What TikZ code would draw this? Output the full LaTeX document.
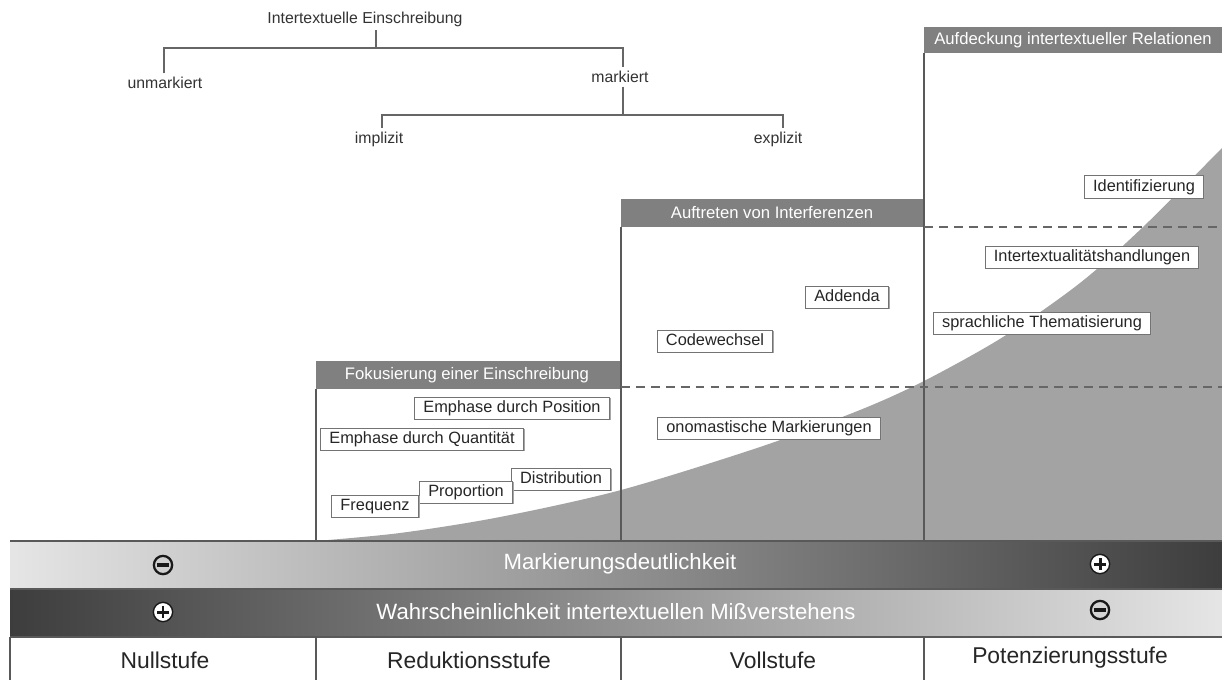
\documentclass[tikz,border=0pt]{standalone}
\usepackage{fontspec}
\setmainfont{Liberation Sans}
\usetikzlibrary{shadows}
\definecolor{hdrgray}{gray}{0.50}
\definecolor{areagray}{gray}{0.64}
\definecolor{linegray}{gray}{0.35}
\definecolor{boxline}{gray}{0.45}
\begin{document}
\begin{tikzpicture}[x=0.02cm,y=-0.02cm,
  lbl/.style={draw=boxline, fill=white, line width=0.5pt, font=\fontsize{9.3}{11}\selectfont,
    text=black!85, inner xsep=5pt, inner ysep=0pt, text height=7pt, text depth=2pt,
    minimum height=12.6pt,
    general shadow={fill=black!35, shadow xshift=0.7pt, shadow yshift=-0.7pt}},
  hdrtext/.style={text=white, font=\fontsize{9.5}{11}\selectfont},
  treetext/.style={font=\fontsize{9}{11}\selectfont, text=black!80, inner sep=2pt},
  bandtext/.style={text=white, font=\fontsize{12.6}{15}\selectfont},
  stagetext/.style={font=\fontsize{13}{15}\selectfont, text=black!85},
  treeline/.style={draw=black!60, line width=0.6pt},
  colline/.style={draw=linegray, line width=0.6pt},
  dashline/.style={draw=black!60, line width=0.8pt, dash pattern=on 5pt off 3.5pt},
  minussym/.style={circle, draw=black!90, line width=1.3pt, minimum size=10.4pt, inner sep=0pt},
  plussym/.style={circle, draw=black!90, fill=white, line width=0.8pt, minimum size=11pt, inner sep=0pt},
  bar/.style={draw=black!90, line width=2pt},
  pbar/.style={draw=black!90, line width=1.7pt},
]
\useasboundingbox (0,0) rectangle (1222,680);
\fill[white] (0,0) rectangle (1222,680);

% ---------- tree ----------
\node[treetext] (root) at (365,19) {Intertextuelle Einschreibung};
\node[treetext] (unm) at (165,83) {unmarkiert};
\node[treetext] (mark) at (620,77) {markiert};
\node[treetext] (impl) at (379,139) {implizit};
\node[treetext] (expl) at (778,139) {explizit};
\coordinate (rb) at (376,48);
\coordinate (ul) at (164,48);
\coordinate (ur) at (623,48);
\coordinate (mb) at (623,115);
\coordinate (ml) at (382,115);
\coordinate (mr) at (783,115);
\draw[treeline] (root.south -| rb) -- (rb);
\draw[treeline] (unm.north -| ul) -- (ul) -- (ur) -- (mark.north -| ur);
\draw[treeline] (mark.south -| mb) -- (mb);
\draw[treeline] (impl.north -| ml) -- (ml) -- (mr) -- (expl.north -| mr);

% ---------- grey growth area ----------
\fill[areagray] plot[smooth] coordinates {(316,541) (400,533) (500,517) (621,490) (760,447) (860,410) (924,381) (1003,337) (1080,283) (1143,227) (1222,148)} -- (1222,541) -- cycle;

% ---------- column headers ----------
\fill[hdrgray] (924,27) rectangle (1222,53);
\node[hdrtext] (h4) at (1073,40) {Aufdeckung intertextueller Relationen};
\fill[hdrgray] (621,199) rectangle (924,227);
\node[hdrtext] (h3) at (772,213) {Auftreten von Interferenzen};
\fill[hdrgray] (316,361) rectangle (621,389);
\node[hdrtext] (h2) at (467,375) {Fokusierung einer Einschreibung};

% ---------- column lines ----------
\draw[colline] (316,389) -- (316,541);
\draw[colline] (621,227) -- (621,541);
\draw[colline] (924,53) -- (924,541);
\draw[dashline] (621,387) -- (1222,387);
\draw[dashline] (924,227) -- (1222,227);

% ---------- labels ----------
\node[lbl] (epos) at (512,408) {Emphase durch Position};
\node[lbl] (equa) at (422,439) {Emphase durch Quantität};
\node[lbl] (dist) at (561,479) {Distribution};
\node[lbl] (prop) at (466,492) {Proportion};
\node[lbl] (freq) at (375,506) {Frequenz};
\node[lbl] (adde) at (847,297) {Addenda};
\node[lbl] (code) at (715,341) {Codewechsel};
\node[lbl] (onom) at (769,428) {onomastische Markierungen};
\node[lbl] (iden) at (1144,187) {Identifizierung};
\node[lbl] (inte) at (1092,257) {Intertextualitätshandlungen};
\node[lbl] (spra) at (1042,323) {sprachliche Thematisierung};

% ---------- bands ----------
\shade[left color=black!10, middle color=black!42, right color=black!76] (10,541) rectangle (1222,589);
\shade[left color=black!76, middle color=black!45, right color=black!10] (10,589) rectangle (1222,637);
\draw[colline] (10,541) -- (1222,541);
\draw[colline] (10,589) -- (1222,589);
\draw[colline] (10,637) -- (1222,637);
\node[bandtext] (md) at (620,564) {Markierungsdeutlichkeit};
\node[bandtext] (wm) at (616,612) {Wahrscheinlichkeit intertextuellen Mißverstehens};

\node[minussym] (m1) at (163,565) {};
\draw[bar] ([xshift=-3.2pt]m1.center) -- ([xshift=3.2pt]m1.center);
\node[plussym] (p1) at (163,612) {};
\draw[pbar] ([xshift=-3.2pt]p1.center) -- ([xshift=3.2pt]p1.center);
\draw[pbar] ([yshift=-3.2pt]p1.center) -- ([yshift=3.2pt]p1.center);
\node[plussym] (p2) at (1100,564) {};
\draw[pbar] ([xshift=-3.2pt]p2.center) -- ([xshift=3.2pt]p2.center);
\draw[pbar] ([yshift=-3.2pt]p2.center) -- ([yshift=3.2pt]p2.center);
\node[minussym] (m2) at (1100,610) {};
\draw[bar] ([xshift=-3.2pt]m2.center) -- ([xshift=3.2pt]m2.center);

% ---------- stages ----------
\draw[colline] (10,637) -- (10,680);
\draw[colline] (316,637) -- (316,680);
\draw[colline] (621,637) -- (621,680);
\draw[colline] (924,637) -- (924,680);
\node[stagetext] (s1) at (165,660) {Nullstufe};
\node[stagetext] (s2) at (469,660) {Reduktionsstufe};
\node[stagetext] (s3) at (773,660) {Vollstufe};
\node[stagetext] (s4) at (1070,658) {Potenzierungsstufe};
\end{tikzpicture}
\end{document}
